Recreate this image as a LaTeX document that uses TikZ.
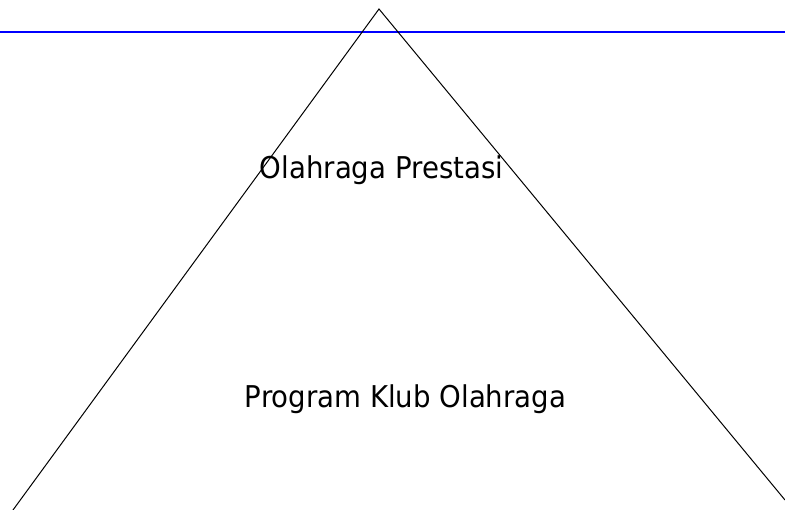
\documentclass[tikz,border=0pt]{standalone}
\usepackage{fontspec}
\setmainfont{DejaVu Sans}
\tikzset{
  edge/.style={draw=black, line width=1pt},
  rule/.style={draw=blue, line width=1.5pt},
  lbl/.style={font=\fontsize{30}{36}\selectfont, anchor=base, inner sep=0pt, xscale=0.92}
}
\begin{document}
\begin{tikzpicture}[x=1pt,y=-1pt]
\useasboundingbox (0,0) rectangle (785,510);
\coordinate (apex) at (379,9);
\coordinate (bl) at (13,510);
\coordinate (br) at (785,500);
\coordinate (r1) at (0,32);
\coordinate (r2) at (785,32);
\draw[rule] (r1) -- (r2);
\draw[edge] (bl) -- (apex) -- (br);
\node[lbl] (top) at (381.5,179) {Olahraga Prestasi};
\node[lbl] (bottom) at (405.5,408) {Program Klub Olahraga};
\end{tikzpicture}
\end{document}
